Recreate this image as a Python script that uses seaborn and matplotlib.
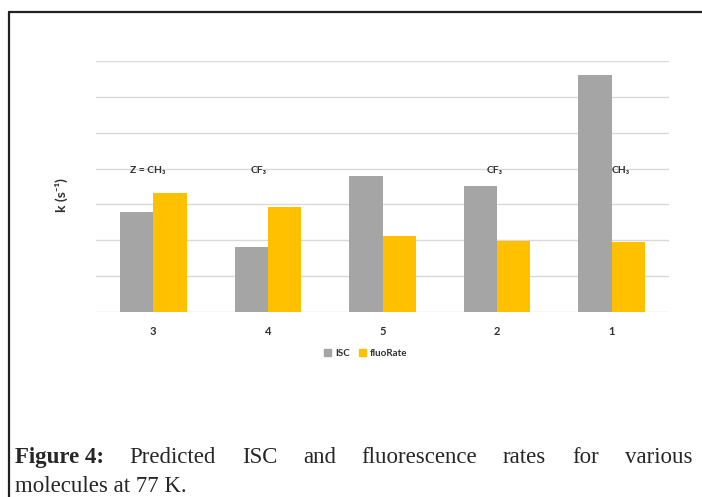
import matplotlib
matplotlib.use("Agg")
import matplotlib.pyplot as plt
import matplotlib.patches as mpatches
import matplotlib.lines as mlines
import seaborn as sns
import pandas as pd

# ---- data ----
molecules = ["3", "4", "5", "2", "1"]
isc_values = [2.80, 1.81, 3.79, 3.51, 6.61]
fluo_values = [3.31, 2.93, 2.12, 1.98, 1.95]
series_names = ["ISC", "fluoRate"]
annotations = ["Z = CH₃", "CF₃", "", "CF₃", "CH₃"]
annot_x = [-0.05, 0.92, None, 2.98, 4.08]
caption_bold = "Figure 4:"
caption_line1 = "Predicted ISC and fluorescence rates for various"
caption_line2 = "molecules at 77 K."

colors = {"ISC": "#A5A5A5", "fluoRate": "#FFC000"}

df = pd.DataFrame({
    "molecule": molecules * 2,
    "series": [series_names[0]] * len(molecules) + [series_names[1]] * len(molecules),
    "k": isc_values + fluo_values,
})

sns.set_theme(style="white")
plt.rcParams["font.family"] = ["Lato", "DejaVu Sans"]

W, H = 702, 497
fig = plt.figure(figsize=(W / 100, H / 100), dpi=100)
ax = fig.add_axes([96 / W, 1 - 312 / H, (669 - 96) / W, (312 - 61) / H])

sns.barplot(data=df, x="molecule", y="k", hue="series", order=molecules,
            hue_order=series_names, palette=colors, width=0.58, gap=0,
            saturation=1, legend=False, ax=ax, errorbar=None, linewidth=0)

ax.set_ylim(0, 7)
ax.set_xlim(-0.5, 4.5)
ax.set_yticks(range(0, 8))
ax.set_yticklabels([])
ax.yaxis.grid(True, color="#D9D9D9", linewidth=1.0)
ax.set_axisbelow(True)
for s in ax.spines.values():
    s.set_visible(False)
ax.tick_params(axis="both", length=0)
ax.tick_params(axis="x", pad=10)
for lbl in ax.get_xticklabels():
    lbl.set_fontweight("bold")
    lbl.set_fontsize(8)
    lbl.set_color("#303030")
ax.set_xlabel("")
ax.set_ylabel("k (s⁻¹)", fontsize=10, fontweight="bold", color="#303030")
ax.yaxis.set_label_coords(-0.048, 0.465)

for txt, xx in zip(annotations, annot_x):
    if txt and xx is not None:
        ax.text(xx, 3.96, txt, ha="center", va="center", fontsize=7.5,
                fontweight="bold", color="#303030",
                family=["Lato", "DejaVu Sans"])

handles = [mpatches.Patch(color=colors[n], label=n) for n in series_names]
leg = fig.legend(handles=handles, loc="center", bbox_to_anchor=(366 / W, 1 - 353 / H),
                 ncol=2, frameon=False, fontsize=7, handlelength=0.7,
                 handleheight=0.7, handletextpad=0.4, columnspacing=1.0)
for t in leg.get_texts():
    t.set_fontweight("bold")
    t.set_color("#303030")

# frame lines
fig.add_artist(mlines.Line2D([9 / W, 1.0], [1 - 12 / H, 1 - 12 / H], color="#222222", lw=1.6))
fig.add_artist(mlines.Line2D([9 / W, 9 / W], [1 - 12 / H, 0.0], color="#222222", lw=1.6))

# justified caption
serif = ["Liberation Serif", "DejaVu Serif"]
cap_fs = 16.5
x_left, x_right = 15, 692
y1 = 1 - 463 / H
y2 = 1 - 492 / H
fig.canvas.draw()
renderer = fig.canvas.get_renderer()
words = [(caption_bold, "bold")] + [(w, "normal") for w in caption_line1.split()]
tmp = []
widths = []
for w, wt in words:
    t = fig.text(0, 0, w, fontsize=cap_fs, fontweight=wt, family=serif)
    bb = t.get_window_extent(renderer)
    widths.append(bb.width)
    tmp.append(t)
total = sum(widths)
gap = (x_right - x_left - total) / (len(words) - 1)
xpos = x_left
for t, wdt in zip(tmp, widths):
    t.set_position((xpos / W, y1))
    xpos += wdt + gap
fig.text(x_left / W, y2, caption_line2, fontsize=cap_fs, family=serif)

fig.savefig("out.png", dpi=100)
